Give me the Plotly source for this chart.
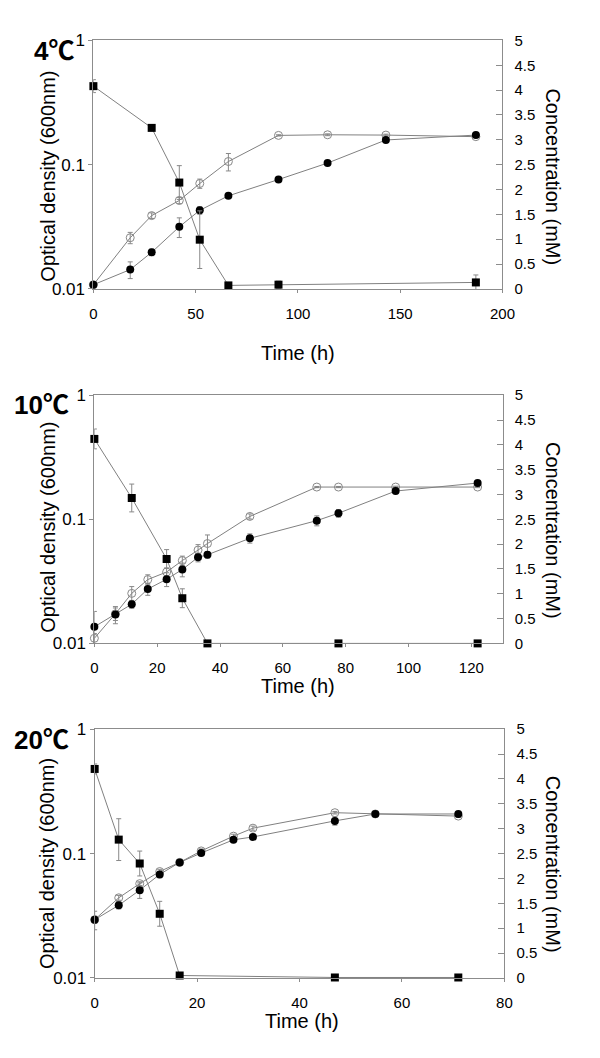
import plotly.graph_objects as go

# ---------------- data ----------------
# 4 °C
T4 = [0, 18, 28.5, 42, 52, 66, 90.5, 114.5, 143, 187]
od_open_4 = [0.0108, 0.0258, 0.0389, 0.0515, 0.0705, 0.106, 0.172, 0.174, 0.173, 0.168]
od_open_4_err = [0, 0.0027, 0.002, 0.003, 0.006, 0.017, 0.002, 0.003, 0.003, 0.003]
od_fill_4 = [0.0108, 0.0143, 0.0197, 0.0316, 0.0429, 0.0561, 0.0759, 0.103, 0.158, 0.173]
od_fill_4_err = [0, 0.0022, 0.0012, 0.0057, 0.003, 0.002, 0.002, 0.003, 0.005, 0.006]
T4_sq = [0, 28.5, 42, 52, 66, 90.5, 187]
conc_4 = [4.08, 3.24, 2.14, 0.99, 0.07, 0.085, 0.13]
conc_4_err = [0.13, 0.05, 0.34, 0.58, 0.03, 0.07, 0.15]

# 10 °C
T10 = [0, 6.7, 11.9, 17, 23, 28, 33, 36, 49.5, 70.8, 77.7, 95.9, 122]
od_open_10 = [0.011, 0.0173, 0.0253, 0.0327, 0.0376, 0.0465, 0.0565, 0.0638, 0.1055, 0.182, 0.182, 0.182, 0.182]
od_open_10_err = [0.001, 0.002, 0.0034, 0.003, 0.003, 0.004, 0.006, 0.011, 0.005, 0.002, 0.002, 0.003, 0.002]
od_fill_10 = [0.0136, 0.0171, 0.0207, 0.0274, 0.0329, 0.0394, 0.0494, 0.0518, 0.0703, 0.0976, 0.112, 0.169, 0.196]
od_fill_10_err = [0.0045, 0.0027, 0.0015, 0.003, 0.0042, 0.005, 0.004, 0.003, 0.006, 0.009, 0.008, 0.004, 0.004]
T10_sq = [0, 11.9, 23, 28, 36, 77.7, 122]
conc_10 = [4.12, 2.93, 1.70, 0.91, 0, 0, 0]
conc_10_err = [0.2, 0.28, 0.19, 0.19, 0, 0, 0]

# 20 °C
T20 = [0, 4.7, 8.8, 12.7, 16.6, 20.8, 27.1, 30.9, 46.9, 54.8, 71]
od_open_20 = [0.0294, 0.0441, 0.0573, 0.0717, 0.0849, 0.105, 0.138, 0.160, 0.213, 0.208, 0.200]
od_open_20_err = [0.002, 0.002, 0.002, 0.003, 0.004, 0.004, 0.005, 0.006, 0.005, 0.005, 0.005]
od_fill_20 = [0.0294, 0.0384, 0.0508, 0.068, 0.0849, 0.101, 0.129, 0.136, 0.183, 0.208, 0.208]
od_fill_20_err = [0.005, 0.0025, 0.0072, 0.004, 0.004, 0.004, 0.004, 0.004, 0.014, 0.004, 0.006]
T20_sq = [0, 4.7, 8.8, 12.7, 16.6, 46.9, 71]
conc_20 = [4.20, 2.78, 2.30, 1.29, 0.05, 0.01, 0.01]
conc_20_err = [0.1, 0.42, 0.25, 0.25, 0.02, 0, 0]

panel_temps = ["4", "10", "20"]
degree_sign = "\u2103"
x_ranges = [[0, 200], [0, 130], [0, 80]]
x_dticks = [50, 20, 20]
left_title = "Optical density (600nm)"
right_title = "Concentration (mM)"
x_title = "Time (h)"

panels = [
    dict(T=T4, oo=od_open_4, ooe=od_open_4_err, of=od_fill_4, ofe=od_fill_4_err,
         Ts=T4_sq, c=conc_4, ce=conc_4_err),
    dict(T=T10, oo=od_open_10, ooe=od_open_10_err, of=od_fill_10, ofe=od_fill_10_err,
         Ts=T10_sq, c=conc_10, ce=conc_10_err),
    dict(T=T20, oo=od_open_20, ooe=od_open_20_err, of=od_fill_20, ofe=od_fill_20_err,
         Ts=T20_sq, c=conc_20, ce=conc_20_err),
]

# ---------------- layout geometry (pixels) ----------------
W, H = 600, 1058
boxes = [  # left, right, top, bottom in px
    (92, 513, 32, 285),
    (93, 513.3, 393.3, 646),
    (93.3, 515, 733.3, 986.7),
]
ytitle_left = [170, 527.5, 870]
ytitle_right = [171.5, 531.5, 871.5]
xtitle_pos = [(303, 350), (303, 689), (307, 1030)]
label_pos = [(74, 40), (69, 401), (69, 742)]


def px(x):
    return x / W


def py(y):
    return 1 - y / H


FONT = '"Liberation Sans", Arial, sans-serif'
LINE = "#808080"
AX = "#8c8c8c"

fig = go.Figure()

for i, p in enumerate(panels):
    n = i + 1
    xa = "x" if n == 1 else f"x{n}"
    yl = "y" if n == 1 else f"y{2 * n - 1}"
    yr = f"y{2 * n}"
    err_style = dict(type="data", thickness=1, width=2.5, color="#888888")

    fig.add_trace(go.Scatter(
        x=p["T"], y=p["oo"], xaxis=xa, yaxis=yl, mode="lines+markers",
        line=dict(color=LINE, width=1),
        marker=dict(symbol="circle-open", size=8, color="#888888", line=dict(width=1)),
        error_y=dict(array=p["ooe"], **err_style), showlegend=False, cliponaxis=False))
    fig.add_trace(go.Scatter(
        x=p["T"], y=p["of"], xaxis=xa, yaxis=yl, mode="lines+markers",
        line=dict(color=LINE, width=1),
        marker=dict(symbol="circle", size=8, color="black"),
        error_y=dict(array=p["ofe"], **err_style), showlegend=False, cliponaxis=False))
    fig.add_trace(go.Scatter(
        x=p["Ts"], y=p["c"], xaxis=xa, yaxis=yr, mode="lines+markers",
        line=dict(color=LINE, width=1),
        marker=dict(symbol="square", size=8, color="black"),
        error_y=dict(array=p["ce"], **err_style), showlegend=False, cliponaxis=False))

    l, r, t, b = boxes[i]
    xkey = "xaxis" if n == 1 else f"xaxis{n}"
    ylkey = "yaxis" if n == 1 else f"yaxis{2 * n - 1}"
    yrkey = f"yaxis{2 * n}"
    fig.layout[xkey] = dict(
        domain=[px(l), px(r)], anchor=yl, range=x_ranges[i], dtick=x_dticks[i],
        showline=True, linecolor=AX, linewidth=1, mirror=True,
        ticks="outside", ticklen=3, tickcolor=AX, showgrid=False, zeroline=False,
        tickfont=dict(family=FONT, size=15, color="black"), ticklabelstandoff=8)
    fig.layout[ylkey] = dict(
        domain=[py(b), py(t)], anchor=xa, type="log", range=[-2, 0],
        tickvals=[0.01, 0.1, 1], ticktext=["0.01", "0.1", "1"],
        showline=True, linecolor=AX, linewidth=1, ticks="outside", ticklen=4,
        tickcolor=AX, showgrid=False, zeroline=False,
        tickfont=dict(family=FONT, size=17, color="black"))
    fig.layout[yrkey] = dict(
        domain=[py(b), py(t)], anchor=xa, overlaying=yl, side="right",
        range=[0, 5], dtick=0.5, showline=True, linecolor=AX, linewidth=1,
        ticks="inside", ticklen=6, tickcolor=AX, showgrid=False, zeroline=False,
        tickfont=dict(family=FONT, size=15, color="black"), ticklabelstandoff=8)

annotations = []
for i in range(3):
    annotations.append(dict(
        text=left_title, x=px(45), y=py(ytitle_left[i]), xref="paper", yref="paper",
        textangle=-90, showarrow=False, xanchor="center", yanchor="middle",
        font=dict(family=FONT, size=20, color="black")))
    annotations.append(dict(
        text=right_title, x=px(565), y=py(ytitle_right[i]), xref="paper", yref="paper",
        textangle=90, showarrow=False, xanchor="center", yanchor="middle",
        font=dict(family=FONT, size=20, color="black")))
    annotations.append(dict(
        text=x_title, x=px(xtitle_pos[i][0]), y=py(xtitle_pos[i][1]),
        xref="paper", yref="paper", showarrow=False, xanchor="center", yanchor="middle",
        font=dict(family=FONT, size=20, color="black")))
    label = ("<b>" + panel_temps[i]
             + "<span style='font-family:\"Noto Sans CJK JP\"'>" + degree_sign + "</span></b>")
    annotations.append(dict(
        text=label, x=px(label_pos[i][0]), y=py(label_pos[i][1]),
        xref="paper", yref="paper", showarrow=False, xanchor="right", yanchor="middle",
        font=dict(family=FONT, size=26, color="black")))

fig.update_layout(
    width=W, height=H, margin=dict(l=0, r=0, t=0, b=0),
    paper_bgcolor="white", plot_bgcolor="white", annotations=annotations,
    font=dict(family=FONT, color="black"))

fig.write_html("out.html", config={"displayModeBar": False},
               post_script="document.body.style.margin='0';document.body.style.overflow='hidden';")
